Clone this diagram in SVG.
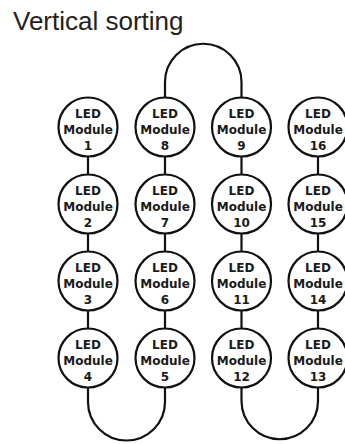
<svg xmlns="http://www.w3.org/2000/svg" width="345" height="444" viewBox="0 0 345 444">
<style>
.title{font-family:"Liberation Sans",Arial,sans-serif;font-size:26px;fill:#222}
.n circle{fill:#fff;stroke:#111;stroke-width:2.2}
.n text{font-family:"DejaVu Sans",Verdana,sans-serif;font-weight:bold;font-size:12px;fill:#1a1a1a;text-anchor:middle}
.c path{fill:none;stroke:#111;stroke-width:2.2}
</style>
<rect width="345" height="444" fill="#fff"/>
<text class="title" x="13" y="29.5">Vertical sorting</text>
<g class="c" id="connectors">
<path d="M88,157 V174.5 M88,233.5 V251.5 M88,310.5 V328.5"/>
<path d="M165,157 V174.5 M165,233.5 V251.5 M165,310.5 V328.5"/>
<path d="M241.5,157 V174.5 M241.5,233.5 V251.5 M241.5,310.5 V328.5"/>
<path d="M318,157 V174.5 M318,233.5 V251.5 M318,310.5 V328.5"/>
<path d="M88,387.5 V402 A38.5,38.5 0 0 0 165,402 V387.5"/>
<path d="M241.5,387.5 V401 A38.25,38.25 0 0 0 318,401 V387.5"/>
<path d="M165,97.5 V82 A38.25,38.25 0 0 1 241.5,82 V97.5"/>
</g>
<g class="n" id="m1"><circle cx="88" cy="127" r="29.5"/><text x="88" y="118">LED</text><text x="88" y="134">Module</text><text x="88" y="150">1</text></g>
<g class="n" id="m2"><circle cx="88" cy="204" r="29.5"/><text x="88" y="195">LED</text><text x="88" y="211">Module</text><text x="88" y="227">2</text></g>
<g class="n" id="m3"><circle cx="88" cy="281" r="29.5"/><text x="88" y="272">LED</text><text x="88" y="288">Module</text><text x="88" y="304">3</text></g>
<g class="n" id="m4"><circle cx="88" cy="358" r="29.5"/><text x="88" y="349">LED</text><text x="88" y="365">Module</text><text x="88" y="381">4</text></g>
<g class="n" id="m8"><circle cx="165" cy="127" r="29.5"/><text x="165" y="118">LED</text><text x="165" y="134">Module</text><text x="165" y="150">8</text></g>
<g class="n" id="m7"><circle cx="165" cy="204" r="29.5"/><text x="165" y="195">LED</text><text x="165" y="211">Module</text><text x="165" y="227">7</text></g>
<g class="n" id="m6"><circle cx="165" cy="281" r="29.5"/><text x="165" y="272">LED</text><text x="165" y="288">Module</text><text x="165" y="304">6</text></g>
<g class="n" id="m5"><circle cx="165" cy="358" r="29.5"/><text x="165" y="349">LED</text><text x="165" y="365">Module</text><text x="165" y="381">5</text></g>
<g class="n" id="m9"><circle cx="241.5" cy="127" r="29.5"/><text x="241.5" y="118">LED</text><text x="241.5" y="134">Module</text><text x="241.5" y="150">9</text></g>
<g class="n" id="m10"><circle cx="241.5" cy="204" r="29.5"/><text x="241.5" y="195">LED</text><text x="241.5" y="211">Module</text><text x="241.5" y="227">10</text></g>
<g class="n" id="m11"><circle cx="241.5" cy="281" r="29.5"/><text x="241.5" y="272">LED</text><text x="241.5" y="288">Module</text><text x="241.5" y="304">11</text></g>
<g class="n" id="m12"><circle cx="241.5" cy="358" r="29.5"/><text x="241.5" y="349">LED</text><text x="241.5" y="365">Module</text><text x="241.5" y="381">12</text></g>
<g class="n" id="m16"><circle cx="318" cy="127" r="29.5"/><text x="318" y="118">LED</text><text x="318" y="134">Module</text><text x="318" y="150">16</text></g>
<g class="n" id="m15"><circle cx="318" cy="204" r="29.5"/><text x="318" y="195">LED</text><text x="318" y="211">Module</text><text x="318" y="227">15</text></g>
<g class="n" id="m14"><circle cx="318" cy="281" r="29.5"/><text x="318" y="272">LED</text><text x="318" y="288">Module</text><text x="318" y="304">14</text></g>
<g class="n" id="m13"><circle cx="318" cy="358" r="29.5"/><text x="318" y="349">LED</text><text x="318" y="365">Module</text><text x="318" y="381">13</text></g>
</svg>
